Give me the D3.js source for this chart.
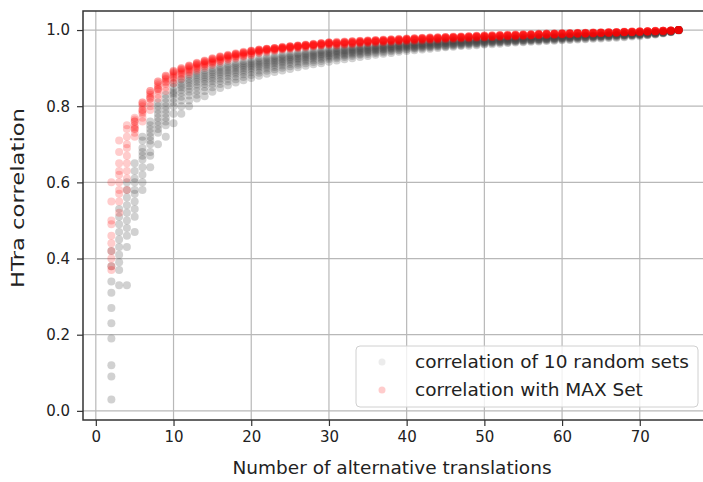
<!DOCTYPE html>
<html>
<head>
<meta charset="utf-8">
<script src="https://cdn.jsdelivr.net/npm/d3@7"></script>
<style>
  body { margin: 0; background: #fff; }
  text { font-family: "DejaVu Sans", sans-serif; fill: #222; }
</style>
</head>
<body>
<div id="chart"></div>
<script>
// number of alternative translations (x)
var nTranslations = [2,3,4,5,6,7,8,9,10,11,12,13,14,15,16,17,18,19,20,21,22,23,24,25,26,27,28,29,30,
  31,32,33,34,35,36,37,38,39,40,41,42,43,44,45,46,47,48,49,50,51,52,53,54,55,56,57,58,59,60,
  61,62,63,64,65,66,67,68,69,70,71,72,73,74,75];

// correlation of 10 random sets, one row per x
var randomSets = [
  [0.42,0.38,0.34,0.31,0.27,0.23,0.19,0.12,0.09,0.03],
  [0.53,0.51,0.49,0.47,0.45,0.43,0.41,0.39,0.37,0.33],
  [0.60,0.58,0.56,0.54,0.52,0.50,0.48,0.46,0.43,0.33],
  [0.65,0.63,0.61,0.60,0.58,0.57,0.55,0.53,0.51,0.47],
  [0.72,0.71,0.69,0.68,0.67,0.66,0.64,0.62,0.60,0.58],
  [0.76,0.75,0.74,0.73,0.72,0.71,0.70,0.68,0.67,0.64],
  [0.81,0.80,0.79,0.78,0.77,0.76,0.75,0.74,0.73,0.70],
  [0.83,0.82,0.81,0.80,0.79,0.78,0.77,0.76,0.75,0.72],
  [0.86,0.85,0.84,0.835,0.83,0.82,0.81,0.80,0.78,0.755],
  [0.87,0.862,0.855,0.85,0.843,0.835,0.825,0.815,0.80,0.78],
  [0.88,0.872,0.866,0.86,0.853,0.846,0.838,0.828,0.815,0.80],
  [0.888,0.882,0.876,0.87,0.864,0.857,0.85,0.84,0.83,0.82],
  [0.894,0.888,0.882,0.877,0.871,0.865,0.858,0.85,0.84,0.826],
  [0.90,0.894,0.889,0.884,0.878,0.872,0.866,0.858,0.85,0.838],
  [0.905,0.90,0.895,0.89,0.885,0.879,0.873,0.866,0.858,0.848],
  [0.91,0.905,0.90,0.895,0.89,0.885,0.879,0.872,0.865,0.855],
  [0.914,0.909,0.905,0.90,0.895,0.89,0.885,0.878,0.871,0.862],
  [0.918,0.913,0.909,0.905,0.90,0.895,0.89,0.884,0.877,0.868],
  [0.922,0.917,0.913,0.909,0.905,0.90,0.895,0.889,0.882,0.874],
  [0.926,0.921,0.917,0.913,0.909,0.905,0.90,0.894,0.888,0.88],
  [0.929,0.925,0.921,0.917,0.913,0.909,0.904,0.899,0.893,0.885],
  [0.932,0.928,0.924,0.92,0.917,0.913,0.908,0.903,0.897,0.89],
  [0.935,0.931,0.927,0.924,0.92,0.916,0.912,0.907,0.901,0.894],
  [0.938,0.934,0.93,0.927,0.923,0.92,0.916,0.911,0.905,0.898],
  [0.94,0.937,0.933,0.93,0.926,0.923,0.919,0.914,0.909,0.902],
  [0.943,0.939,0.936,0.933,0.929,0.926,0.922,0.918,0.913,0.906],
  [0.945,0.942,0.938,0.935,0.932,0.929,0.925,0.921,0.916,0.91],
  [0.947,0.944,0.941,0.938,0.935,0.932,0.928,0.924,0.919,0.913],
  [0.95,0.946,0.943,0.94,0.937,0.934,0.931,0.927,0.923,0.917],
  [0.952,0.948,0.945,0.943,0.94,0.937,0.934,0.93,0.926,0.92],
  [0.954,0.95,0.947,0.945,0.942,0.939,0.936,0.933,0.929,0.923],
  [0.955,0.952,0.949,0.947,0.944,0.942,0.939,0.936,0.932,0.926],
  [0.957,0.954,0.951,0.949,0.946,0.944,0.941,0.938,0.935,0.929],
  [0.959,0.956,0.953,0.951,0.948,0.946,0.943,0.941,0.937,0.932],
  [0.96,0.957,0.955,0.953,0.95,0.948,0.946,0.943,0.94,0.935],
  [0.962,0.959,0.957,0.955,0.952,0.95,0.948,0.945,0.942,0.938],
  [0.963,0.961,0.958,0.956,0.954,0.952,0.95,0.947,0.944,0.94],
  [0.965,0.962,0.96,0.958,0.956,0.954,0.952,0.949,0.947,0.943],
  [0.966,0.964,0.962,0.96,0.958,0.956,0.954,0.951,0.949,0.945],
  [0.967,0.965,0.963,0.961,0.959,0.957,0.955,0.953,0.951,0.947],
  [0.969,0.966,0.964,0.962,0.961,0.959,0.957,0.955,0.952,0.949],
  [0.97,0.968,0.966,0.964,0.962,0.96,0.958,0.956,0.954,0.951],
  [0.971,0.969,0.967,0.965,0.963,0.962,0.96,0.958,0.956,0.953],
  [0.972,0.97,0.968,0.966,0.965,0.963,0.961,0.959,0.957,0.955],
  [0.973,0.971,0.969,0.967,0.966,0.964,0.963,0.961,0.959,0.956],
  [0.974,0.972,0.97,0.968,0.967,0.965,0.964,0.962,0.96,0.958],
  [0.975,0.973,0.971,0.97,0.968,0.967,0.965,0.964,0.962,0.959],
  [0.976,0.974,0.972,0.971,0.969,0.968,0.966,0.965,0.963,0.96],
  [0.977,0.975,0.973,0.972,0.97,0.969,0.968,0.966,0.964,0.962],
  [0.978,0.976,0.974,0.973,0.971,0.97,0.969,0.967,0.966,0.963],
  [0.978,0.977,0.975,0.974,0.972,0.971,0.97,0.968,0.967,0.964],
  [0.979,0.978,0.976,0.975,0.973,0.972,0.971,0.97,0.968,0.966],
  [0.98,0.978,0.977,0.976,0.974,0.973,0.972,0.971,0.969,0.967],
  [0.981,0.979,0.978,0.977,0.975,0.974,0.973,0.972,0.97,0.968],
  [0.982,0.98,0.979,0.977,0.976,0.975,0.974,0.973,0.971,0.969],
  [0.982,0.981,0.98,0.978,0.977,0.976,0.975,0.974,0.972,0.97],
  [0.983,0.982,0.98,0.979,0.978,0.977,0.976,0.975,0.973,0.971],
  [0.984,0.983,0.981,0.98,0.979,0.978,0.977,0.976,0.974,0.972],
  [0.985,0.983,0.982,0.981,0.98,0.979,0.978,0.977,0.975,0.973],
  [0.985,0.984,0.983,0.982,0.981,0.98,0.979,0.978,0.976,0.974],
  [0.986,0.985,0.984,0.983,0.982,0.981,0.98,0.979,0.977,0.975],
  [0.987,0.986,0.985,0.984,0.983,0.982,0.981,0.98,0.978,0.976],
  [0.987,0.986,0.985,0.984,0.984,0.983,0.982,0.981,0.979,0.977],
  [0.988,0.987,0.986,0.985,0.984,0.984,0.983,0.982,0.98,0.978],
  [0.989,0.988,0.987,0.986,0.985,0.985,0.984,0.983,0.981,0.979],
  [0.99,0.989,0.988,0.987,0.986,0.986,0.985,0.984,0.982,0.98],
  [0.99,0.989,0.989,0.988,0.987,0.986,0.986,0.985,0.983,0.981],
  [0.991,0.99,0.99,0.989,0.988,0.987,0.987,0.986,0.985,0.983],
  [0.992,0.991,0.99,0.99,0.989,0.988,0.988,0.987,0.986,0.984],
  [0.993,0.992,0.991,0.991,0.99,0.99,0.989,0.988,0.987,0.986],
  [0.994,0.993,0.993,0.992,0.992,0.991,0.991,0.99,0.989,0.988],
  [0.996,0.995,0.995,0.994,0.994,0.993,0.993,0.992,0.992,0.991],
  [0.998,0.997,0.997,0.997,0.996,0.996,0.996,0.995,0.995,0.994],
  [1,1,1,1,1,1,1,1,0.999,0.999]
];

// correlation with MAX set, one row per x
var maxSet = [
  [0.60,0.55,0.50,0.49,0.46,0.44,0.42,0.40,0.38,0.37],
  [0.71,0.68,0.65,0.63,0.62,0.60,0.58,0.57,0.55,0.52],
  [0.75,0.74,0.72,0.70,0.69,0.67,0.65,0.63,0.61,0.58],
  [0.77,0.765,0.76,0.76,0.75,0.745,0.74,0.74,0.73,0.72],
  [0.81,0.81,0.805,0.80,0.79,0.79,0.785,0.78,0.77,0.76],
  [0.84,0.84,0.835,0.83,0.825,0.82,0.82,0.81,0.80,0.79],
  [0.865,0.865,0.86,0.855,0.85,0.845,0.845,0.84,0.83,0.82],
  [0.88,0.88,0.877,0.873,0.87,0.865,0.862,0.858,0.85,0.84],
  [0.893,0.892,0.89,0.887,0.884,0.88,0.877,0.874,0.868,0.86],
  [0.90,0.899,0.897,0.895,0.892,0.889,0.886,0.883,0.878,0.872],
  [0.907,0.906,0.905,0.903,0.90,0.898,0.895,0.892,0.889,0.884],
  [0.914,0.913,0.912,0.91,0.908,0.906,0.903,0.90,0.897,0.893],
  [0.92,0.919,0.918,0.916,0.914,0.912,0.91,0.908,0.905,0.901],
  [0.926,0.925,0.924,0.922,0.92,0.918,0.916,0.914,0.912,0.908],
  [0.931,0.93,0.929,0.928,0.926,0.924,0.922,0.92,0.918,0.915],
  [0.935,0.934,0.933,0.932,0.931,0.929,0.927,0.925,0.923,0.92],
  [0.939,0.938,0.937,0.936,0.935,0.933,0.932,0.93,0.928,0.925],
  [0.943,0.942,0.941,0.94,0.939,0.937,0.936,0.934,0.932,0.93],
  [0.946,0.945,0.945,0.944,0.943,0.941,0.94,0.938,0.936,0.934],
  [0.949,0.948,0.948,0.947,0.946,0.945,0.944,0.943,0.941,0.939],
  [0.951,0.951,0.95,0.95,0.949,0.948,0.947,0.946,0.944,0.942],
  [0.953,0.953,0.952,0.952,0.951,0.95,0.949,0.948,0.947,0.945],
  [0.956,0.955,0.955,0.954,0.953,0.953,0.952,0.951,0.95,0.948],
  [0.958,0.957,0.957,0.956,0.956,0.955,0.954,0.953,0.952,0.95],
  [0.96,0.959,0.959,0.958,0.958,0.957,0.956,0.955,0.954,0.952],
  [0.962,0.961,0.961,0.96,0.96,0.959,0.958,0.957,0.956,0.954],
  [0.964,0.963,0.963,0.962,0.962,0.961,0.96,0.959,0.958,0.957],
  [0.966,0.965,0.965,0.964,0.964,0.963,0.962,0.961,0.96,0.959],
  [0.968,0.967,0.967,0.966,0.966,0.965,0.964,0.963,0.962,0.961],
  [0.969,0.968,0.967,0.966,0.965,0.965,0.964,0.963,0.961,0.959],
  [0.97,0.969,0.968,0.968,0.967,0.966,0.965,0.964,0.963,0.961],
  [0.971,0.97,0.97,0.969,0.968,0.967,0.966,0.965,0.964,0.962],
  [0.972,0.971,0.971,0.97,0.969,0.968,0.968,0.967,0.966,0.964],
  [0.973,0.972,0.972,0.971,0.97,0.97,0.969,0.968,0.967,0.965],
  [0.974,0.973,0.973,0.972,0.971,0.971,0.97,0.969,0.968,0.966],
  [0.975,0.974,0.974,0.973,0.972,0.972,0.971,0.97,0.969,0.967],
  [0.976,0.975,0.975,0.974,0.973,0.973,0.972,0.971,0.97,0.968],
  [0.977,0.976,0.976,0.975,0.974,0.974,0.973,0.972,0.971,0.969],
  [0.978,0.977,0.977,0.976,0.975,0.975,0.974,0.973,0.972,0.97],
  [0.979,0.978,0.978,0.977,0.976,0.976,0.975,0.974,0.973,0.971],
  [0.98,0.979,0.979,0.978,0.977,0.977,0.976,0.975,0.974,0.972],
  [0.981,0.98,0.98,0.979,0.978,0.978,0.977,0.976,0.975,0.973],
  [0.981,0.981,0.98,0.98,0.979,0.978,0.978,0.977,0.976,0.974],
  [0.982,0.982,0.981,0.981,0.98,0.979,0.979,0.978,0.977,0.975],
  [0.983,0.982,0.982,0.981,0.981,0.98,0.98,0.979,0.978,0.976],
  [0.983,0.983,0.982,0.982,0.981,0.981,0.98,0.98,0.979,0.977],
  [0.984,0.984,0.983,0.983,0.982,0.982,0.981,0.98,0.98,0.978],
  [0.985,0.985,0.984,0.984,0.983,0.983,0.982,0.981,0.981,0.979],
  [0.986,0.985,0.985,0.984,0.984,0.983,0.983,0.982,0.981,0.98],
  [0.986,0.986,0.985,0.985,0.984,0.984,0.983,0.983,0.982,0.981],
  [0.987,0.987,0.986,0.986,0.985,0.985,0.984,0.984,0.983,0.982],
  [0.988,0.987,0.987,0.986,0.986,0.985,0.985,0.984,0.984,0.983],
  [0.988,0.988,0.987,0.987,0.986,0.986,0.985,0.985,0.984,0.983],
  [0.989,0.988,0.988,0.987,0.987,0.987,0.986,0.986,0.985,0.984],
  [0.989,0.989,0.988,0.988,0.988,0.987,0.987,0.986,0.986,0.985],
  [0.99,0.99,0.989,0.989,0.988,0.988,0.988,0.987,0.987,0.986],
  [0.991,0.99,0.99,0.99,0.989,0.989,0.988,0.988,0.987,0.987],
  [0.991,0.991,0.99,0.99,0.99,0.989,0.989,0.988,0.988,0.987],
  [0.992,0.991,0.991,0.991,0.99,0.99,0.99,0.989,0.989,0.988],
  [0.992,0.992,0.991,0.991,0.991,0.99,0.99,0.99,0.989,0.989],
  [0.993,0.992,0.992,0.992,0.991,0.991,0.991,0.99,0.99,0.99],
  [0.993,0.993,0.992,0.992,0.992,0.991,0.991,0.991,0.99,0.99],
  [0.994,0.993,0.993,0.993,0.992,0.992,0.992,0.991,0.991,0.991],
  [0.994,0.994,0.993,0.993,0.993,0.993,0.992,0.992,0.992,0.992],
  [0.995,0.994,0.994,0.994,0.993,0.993,0.993,0.993,0.992,0.992],
  [0.995,0.995,0.994,0.994,0.994,0.994,0.993,0.993,0.993,0.993],
  [0.996,0.995,0.995,0.995,0.995,0.994,0.994,0.994,0.994,0.994],
  [0.996,0.996,0.996,0.995,0.995,0.995,0.995,0.995,0.994,0.994],
  [0.997,0.996,0.996,0.996,0.996,0.996,0.995,0.995,0.995,0.995],
  [0.997,0.997,0.997,0.997,0.996,0.996,0.996,0.996,0.996,0.996],
  [0.998,0.998,0.997,0.997,0.997,0.997,0.997,0.997,0.997,0.997],
  [0.998,0.998,0.998,0.998,0.998,0.998,0.998,0.997,0.997,0.997],
  [0.999,0.999,0.999,0.999,0.999,0.998,0.998,0.998,0.998,0.998],
  [1,1,1,1,1,1,1,1,1,1]
];

var xTicks = [0, 10, 20, 30, 40, 50, 60, 70];
var yTicks = [0.0, 0.2, 0.4, 0.6, 0.8, 1.0];
var legendLabels = ["correlation of 10 random sets", "correlation with MAX Set"];

var W = 703, H = 482;
var box = { left: 83, top: 11, right: 707, bottom: 420 };

var svg = d3.select("#chart").append("svg")
  .attr("width", W)
  .attr("height", H);

var xScale = d3.scaleLinear().domain([-1.65, 78.65]).range([box.left, box.right]);
var yScale = d3.scaleLinear().domain([-0.024, 1.05]).range([box.bottom, box.top]);

// grid
svg.append("g").selectAll("line")
  .data(xTicks).join("line")
  .attr("x1", d => xScale(d)).attr("x2", d => xScale(d))
  .attr("y1", box.top).attr("y2", box.bottom)
  .attr("stroke", "#b8b8b8").attr("stroke-width", 1.2);

svg.append("g").selectAll("line")
  .data(yTicks).join("line")
  .attr("x1", box.left).attr("x2", box.right)
  .attr("y1", d => yScale(d)).attr("y2", d => yScale(d))
  .attr("stroke", "#b8b8b8").attr("stroke-width", 1.2);

// flatten rows into points
function toPoints(rows) {
  var pts = [];
  rows.forEach(function (row, i) {
    row.forEach(function (v) { pts.push({ x: nTranslations[i], y: v }); });
  });
  return pts;
}

var grayColor = "#404040", grayAlpha = 0.24;
var redColor = "#ff0000", redAlpha = 0.2;

svg.append("g").selectAll("circle")
  .data(toPoints(randomSets)).join("circle")
  .attr("cx", d => xScale(d.x))
  .attr("cy", d => yScale(d.y))
  .attr("r", 4)
  .attr("fill", grayColor)
  .attr("fill-opacity", grayAlpha);

svg.append("g").selectAll("circle")
  .data(toPoints(maxSet)).join("circle")
  .attr("cx", d => xScale(d.x))
  .attr("cy", d => yScale(d.y))
  .attr("r", 4)
  .attr("fill", redColor)
  .attr("fill-opacity", redAlpha);

// axes
var xAxis = d3.axisBottom(xScale).tickValues(xTicks).tickFormat(d3.format("d")).tickSize(6).tickPadding(5);
var yAxis = d3.axisLeft(yScale).tickValues(yTicks).tickFormat(d3.format(".1f")).tickSize(6).tickPadding(7);

var gx = svg.append("g").attr("transform", "translate(0," + box.bottom + ")").call(xAxis);
var gy = svg.append("g").attr("transform", "translate(" + box.left + ",0)").call(yAxis);
[gx, gy].forEach(function (g) {
  g.select(".domain").remove();
  g.selectAll(".tick line").attr("stroke", "#333").attr("stroke-width", 1.2);
  g.selectAll(".tick text").attr("font-size", 15).attr("fill", "#222")
    .attr("font-family", "DejaVu Sans, sans-serif");
});

// spines (right one falls outside the picture)
svg.append("rect")
  .attr("x", box.left).attr("y", box.top)
  .attr("width", box.right - box.left).attr("height", box.bottom - box.top)
  .attr("fill", "none").attr("stroke", "#333").attr("stroke-width", 1.5);

// axis labels
svg.append("text")
  .attr("x", (box.left + box.right) / 2 - 3)
  .attr("y", 474)
  .attr("text-anchor", "middle")
  .attr("font-size", 18.5)
  .text("Number of alternative translations");

svg.append("text")
  .attr("transform", "translate(24," + 198 + ") rotate(-90)")
  .attr("text-anchor", "middle")
  .attr("font-size", 17.5)
  .attr("textLength", 180)
  .attr("lengthAdjust", "spacingAndGlyphs")
  .text("HTra correlation");

// legend
var legend = svg.append("g");
legend.append("rect")
  .attr("x", 356).attr("y", 346)
  .attr("width", 342).attr("height", 61)
  .attr("rx", 4)
  .attr("fill", "#fff").attr("fill-opacity", 0.8)
  .attr("stroke", "#d0d0d0");

// legend markers are drawn fainter, like the reference
var legendColors = [grayColor, redColor];
var legendAlphas = [0.1, 0.2];
legendLabels.forEach(function (label, i) {
  var y = 362 + i * 28;
  legend.append("circle")
    .attr("cx", 382).attr("cy", y).attr("r", 3.5)
    .attr("fill", legendColors[i]).attr("fill-opacity", legendAlphas[i]);
  legend.append("text")
    .attr("x", 415).attr("y", y + 6)
    .attr("font-size", 18.5)
    .text(label);
});
</script>
</body>
</html>
